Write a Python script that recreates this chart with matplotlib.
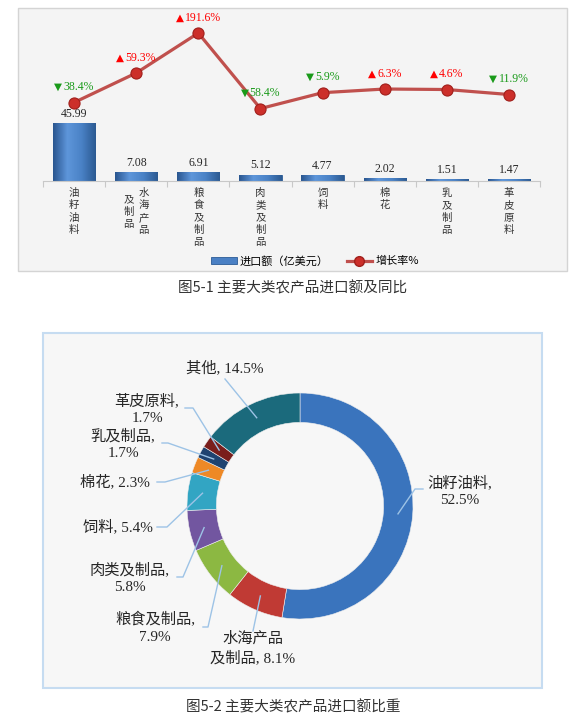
import numpy as np
import matplotlib
matplotlib.use("Agg")
import matplotlib.pyplot as plt
import matplotlib.transforms as mtransforms
from matplotlib.patches import Rectangle
from matplotlib.lines import Line2D
from matplotlib.colors import LinearSegmentedColormap

W, H = 581, 725
plt.rcParams['font.family'] = ['Liberation Serif', 'Noto Sans CJK SC', 'DejaVu Sans']

# data
categories = ['油籽油料', '水海产品及制品', '粮食及制品', '肉类及制品', '饲料', '棉花', '乳及制品', '革皮原料']
import_value = [45.99, 7.08, 6.91, 5.12, 4.77, 2.02, 1.51, 1.47]
growth = [-38.4, 59.3, 191.6, -58.4, -5.9, 6.3, 4.6, -11.9]

share_names = ['油籽油料', '水海产品\n及制品', '粮食及制品', '肉类及制品', '饲料', '棉花', '乳及制品', '革皮原料', '其他']
share = [52.5, 8.1, 7.9, 5.8, 5.4, 2.3, 1.7, 1.7, 14.5]
share_colors = ['#3a74bd', '#c03a34', '#8cb842', '#7256a0', '#32a5c3', '#ee8926', '#1f4370', '#7a1e1c', '#1b6a7c']


def fx(x):
    return x / W


def fy(y):
    return 1 - y / H


fig = plt.figure(figsize=(W / 100, H / 100), dpi=100)
renderer = fig.canvas.get_renderer()

# ---- top panel ----
fig.patches.append(Rectangle((fx(18), fy(271)), (567 - 18) / W, (271 - 8) / H, transform=fig.transFigure,
                             facecolor='#f4f4f4', edgecolor='#d4d4d4', lw=1, zorder=-5))

ax = fig.add_axes([fx(43), fy(181), (540 - 43) / W, (181 - 20) / H])
ax.patch.set_alpha(0)
x = np.arange(len(categories))
bars = ax.bar(x, import_value, width=0.68, color='#4a80c4', edgecolor='#2b5b96', lw=0.6, zorder=2)
cmap = LinearSegmentedColormap.from_list('b', ['#2a5690', '#5e96da', '#4a82c6', '#2c5a92'])
grad = np.linspace(0, 1, 64).reshape(1, -1)
for b in bars:
    im = ax.imshow(grad, cmap=cmap, aspect='auto', zorder=2.1,
                   extent=[b.get_x(), b.get_x() + b.get_width(), 0, b.get_height()])
    im.set_clip_path(b)
ax.set_xlim(-0.5, len(categories) - 0.5)
ax.set_ylim(0, 161 / 1.26)
for s in ['top', 'left', 'right']:
    ax.spines[s].set_visible(False)
ax.spines['bottom'].set_color('#c8c8c8')
ax.set_xticks(np.arange(len(categories) + 1) - 0.5)
ax.set_xticklabels([])
ax.tick_params(axis='x', length=4, color='#c8c8c8')
ax.set_yticks([])

for i, v in enumerate(import_value):
    ax.annotate(f"{v:.2f}", (i, v), xytext=(0, 6.8), textcoords='offset points',
                ha='center', va='center', fontsize=8.5, color='#262626')

# vertical category labels
pitch = 12.3
for i, name in enumerate(categories):
    cols = [name[:4], name[4:]] if len(name) > 5 else [name]
    dxs = [0] if len(cols) == 1 else [7.5, -7.5]
    nmax = max(len(c) for c in cols)
    for col, dx in zip(cols, dxs):
        shift = (nmax - len(col)) / 2 * pitch
        for k, ch in enumerate(col):
            tr = mtransforms.offset_copy(ax.get_xaxis_transform(), fig=fig, x=dx,
                                         y=-(12 + shift + k * pitch), units='dots')
            ax.text(i, 0, ch, transform=tr, ha='center', va='center', fontsize=7.5,
                    family='Noto Sans CJK SC', color='#333333')

ax2 = ax.twinx()
ax2.patch.set_alpha(0)
ax2.set_ylim(-298.3, 234.8)
ax2.plot(x, growth, color='#c0504d', lw=2.3, marker='o', ms=8, mfc='#cc2f2a', mec='#a01f1b', mew=0.8, zorder=3)
for s in ax2.spines.values():
    s.set_visible(False)
ax2.set_yticks([])
for i, g in enumerate(growth):
    up = g > 0
    col = '#ff0000' if up else '#1a9a1a'
    t_num = ax2.annotate(f"{abs(g)}%", (i, g), xytext=(0, 11), textcoords='offset points',
                         ha='left', va='center', fontsize=8.5, color=col, annotation_clip=False)
    t_arr = ax2.annotate('▲' if up else '▼', (i, g), xytext=(0, 11), textcoords='offset points',
                         ha='right', va='center', fontsize=7.5, color=col, family='DejaVu Sans',
                         annotation_clip=False)
    wn = t_num.get_window_extent(renderer).width
    wa = t_arr.get_window_extent(renderer).width
    dx = (wa - wn) / 2 * 72 / 100
    t_num.xyann = (dx + 0.4, 11)
    t_arr.xyann = (dx - 0.4, 11.3)

handles = [Rectangle((0, 0), 1, 1, fc='#4a80c4', ec='#2b5b96', lw=0.6),
           Line2D([], [], color='#c0504d', lw=2.3, marker='o', ms=7, mfc='#cc2f2a', mec='#a01f1b')]
fig.legend(handles, ['进口额（亿美元）', '增长率%'], loc='center', bbox_to_anchor=(fx(315), fy(261)),
           ncol=2, frameon=False, prop={'family': 'Noto Sans CJK SC', 'size': 8},
           handlelength=2.3, handleheight=0.6, columnspacing=1.6, handletextpad=0.3)

fig.text(fx(293), fy(288), '图5-1 主要大类农产品进口额及同比', ha='center', va='center',
         fontsize=10.5, family='Noto Sans CJK SC', color='#333333')

# ---- bottom panel ----
fig.patches.append(Rectangle((fx(43), fy(688)), (542 - 43) / W, (688 - 333) / H, transform=fig.transFigure,
                             facecolor='#f7f7f7', edgecolor='#c6dcf1', lw=1.5, zorder=-5))

ax3 = fig.add_axes([fx(300 - 113), fy(506 + 113), 226 / W, 226 / H])
ax3.patch.set_alpha(0)
wedges, _ = ax3.pie(share, colors=share_colors, startangle=90, counterclock=False, radius=1,
                    wedgeprops=dict(width=0.26, edgecolor='#eeeeee', linewidth=0.4))
ax3.set_xlim(-1, 1)
ax3.set_ylim(-1, 1)

seps = ['\n', ' ', '\n', '\n', ' ', ' ', '\n', '\n', ' ']
# text center (px), leader start (px), stub length (px)
label_pos = [(460, 491), (253, 648), (155, 628), (130, 578), (118, 527), (115, 482), (123, 444), (147, 409), (225, 368)]
leader_start = [(423, 489), (253, 631), (203, 627), (177, 577), (157, 527), (157, 482), (162, 443), (185, 408), (225, 379)]
stubs = [-8, 0, 5, 6, 10, 8, 6, 8, 0]

to_fig = fig.transFigure.inverted()
for w, name, v, sep, (tx, ty), (sx, sy), st in zip(wedges, share_names, share, seps, label_pos, leader_start, stubs):
    fig.text(fx(tx), fy(ty), f"{name},{sep}{v}%", ha='center', va='center', multialignment='center',
             fontsize=11, color='#262626', linespacing=1.42)
    ang = np.deg2rad((w.theta1 + w.theta2) / 2)
    rp = ax3.transData.transform((0.87 * np.cos(ang), 0.87 * np.sin(ang)))
    ex, ey = to_fig.transform(rp)
    fig.add_artist(Line2D([fx(sx), fx(sx + st), ex], [fy(sy), fy(sy), ey], transform=fig.transFigure,
                          color='#9dc3e6', lw=1.0, zorder=5))

fig.text(fx(293), fy(707), '图5-2 主要大类农产品进口额比重', ha='center', va='center',
         fontsize=10.5, family='Noto Sans CJK SC', color='#333333')

fig.savefig('out.png', dpi=100, facecolor='white')
